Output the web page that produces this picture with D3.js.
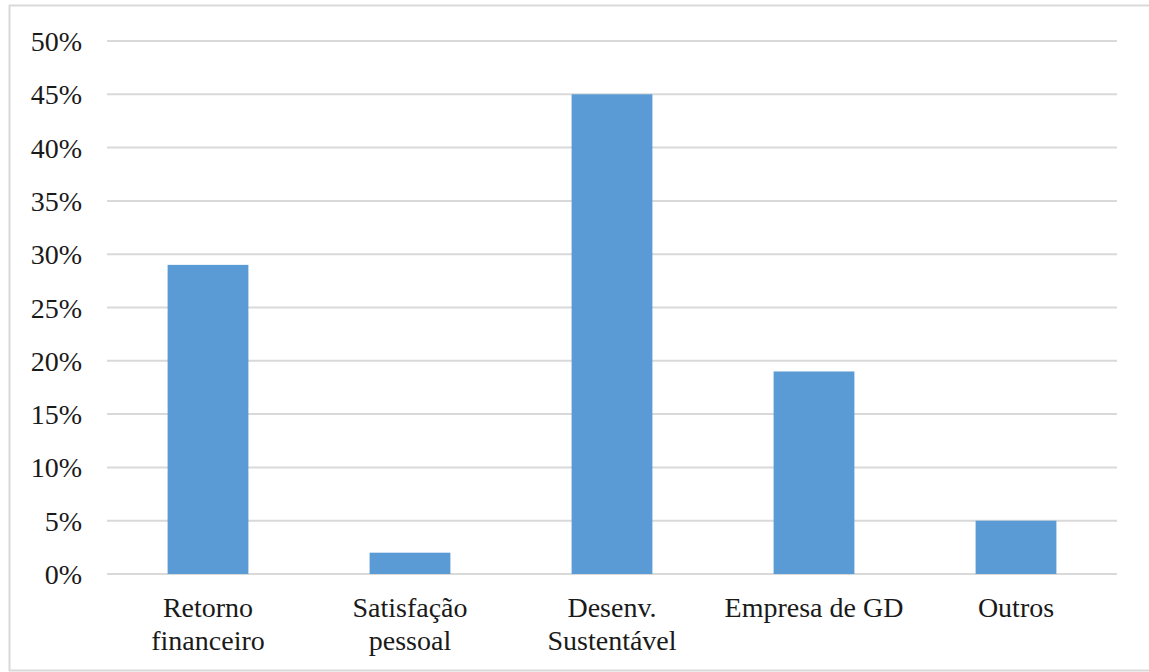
<!DOCTYPE html>
<html><head><meta charset="utf-8"><script src="https://cdn.jsdelivr.net/npm/d3@7"></script></head>
<body style="margin:0">
<svg id="chart" width="1149" height="672"></svg>
<script>
const categories = [['Retorno', 'financeiro'], ['Satisfação', 'pessoal'], ['Desenv.', 'Sustentável'], ['Empresa de GD'], ['Outros']];
const values = [0.29, 0.02, 0.45, 0.19, 0.05];
const yTicks = [0, 0.05, 0.10, 0.15, 0.20, 0.25, 0.30, 0.35, 0.40, 0.45, 0.50];

const config = {
  width: 1149, height: 672,
  margin: { top: 41, right: 32, bottom: 98, left: 107 },
};

const svg = d3.select('#chart');

// outer frame of the chart area
svg.append('rect')
  .attr('x', 9.5).attr('y', 5.5)
  .attr('width', 1160).attr('height', 665)
  .attr('fill', 'none')
  .attr('stroke', '#d9d9d9')
  .attr('stroke-width', 2);

const width = config.width - config.margin.left - config.margin.right;
const height = config.height - config.margin.top - config.margin.bottom;

const chart = svg.append('g')
  .attr('transform', `translate(${config.margin.left},${config.margin.top})`);

const xScale = d3.scaleBand()
  .domain(d3.range(categories.length))
  .range([0, width])
  .paddingInner(0.6)
  .paddingOuter(0.3);

const yScale = d3.scaleLinear()
  .domain([0, 0.5])
  .range([height, 0]);

// gridlines
chart.append('g')
  .selectAll('line')
  .data(yTicks)
  .join('line')
  .attr('x1', 0).attr('x2', width)
  .attr('y1', (d) => yScale(d)).attr('y2', (d) => yScale(d))
  .attr('stroke', '#d9d9d9')
  .attr('stroke-width', 2);

chart.append('g')
  .selectAll('rect')
  .data(values)
  .join('rect')
  .attr('x', (d, i) => xScale(i))
  .attr('y', (d) => yScale(d))
  .attr('width', xScale.bandwidth())
  .attr('height', (d) => height - yScale(d))
  .attr('fill', '#5b9bd5');

// y labels, straight under the svg like plain text
svg.selectAll('text.ylab')
  .data(yTicks)
  .join('text')
  .attr('class', 'ylab')
  .attr('x', config.margin.left - 25)
  .attr('y', (d) => config.margin.top + yScale(d) + 10)
  .attr('text-anchor', 'end')
  .style('font-family', '"Liberation Serif"')
  .style('font-size', '28px')
  .style('fill', '#1a1a1a')
  .text(d3.format('.0%'));

// category labels, one text per line
const labelLines = categories.flatMap((lines, i) => lines.map((line, j) => ({ i, j, line })));
svg.selectAll('text.xlab')
  .data(labelLines)
  .join('text')
  .attr('class', 'xlab')
  .attr('x', (d) => config.margin.left + xScale(d.i) + xScale.bandwidth() / 2)
  .attr('y', (d) => config.margin.top + height + 43 + d.j * 33)
  .attr('text-anchor', 'middle')
  .style('font-family', '"Liberation Serif"')
  .style('font-size', '28px')
  .style('fill', '#1a1a1a')
  .text((d) => d.line);
</script>
</body>
</html>
